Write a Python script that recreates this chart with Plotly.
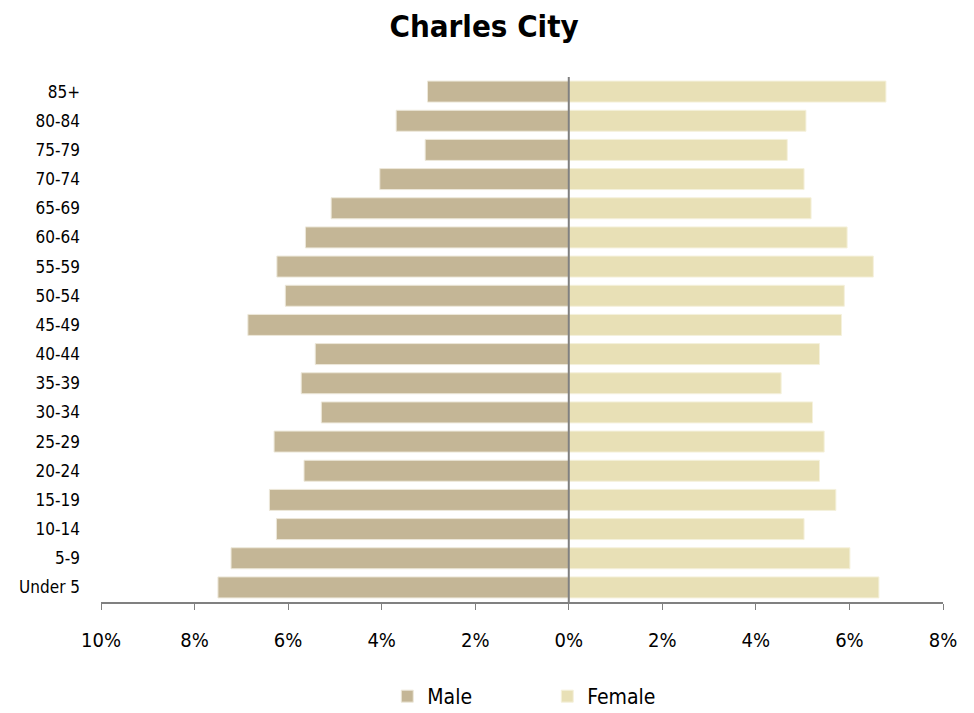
import plotly.graph_objects as go

age_groups = ["Under 5", "5-9", "10-14", "15-19", "20-24", "25-29", "30-34", "35-39",
              "40-44", "45-49", "50-54", "55-59", "60-64", "65-69", "70-74", "75-79",
              "80-84", "85+"]
male_pct = [7.50, 7.22, 6.25, 6.40, 5.66, 6.30, 5.29, 5.72,
            5.42, 6.86, 6.06, 6.24, 5.63, 5.08, 4.04, 3.07, 3.69, 3.02]
female_pct = [6.63, 6.01, 5.03, 5.71, 5.36, 5.46, 5.21, 4.54,
              5.36, 5.83, 5.89, 6.51, 5.95, 5.18, 5.03, 4.67, 5.07, 6.78]
tick_vals = [-10, -8, -6, -4, -2, 0, 2, 4, 6, 8]
tick_text = ["10%", "8%", "6%", "4%", "2%", "0%", "2%", "4%", "6%", "8%"]

font_family = "Liberation Sans Narrow, DejaVu Sans Condensed, Carlito, Arial, sans-serif"

fig = go.Figure()
fig.add_trace(go.Bar(
    y=age_groups, x=[-v for v in male_pct], orientation="h", name="Male",
    marker=dict(color="#C4B696", line=dict(color="#EDE8DA", width=1)),
))
fig.add_trace(go.Bar(
    y=age_groups, x=female_pct, orientation="h", name="Female",
    marker=dict(color="#E8E0B6", line=dict(color="#F5F1DC", width=1)),
))

# vertical centre line at 0%
fig.add_shape(type="line", xref="x", yref="paper", x0=0, x1=0, y0=0, y1=1,
              line=dict(color="#808080", width=2), layer="above")

fig.update_layout(
    width=974, height=713,
    barmode="overlay", bargap=0.28,
    paper_bgcolor="white", plot_bgcolor="white",
    margin=dict(l=101, r=31, t=77, b=111, autoexpand=False),
    title=dict(text="<b>Charles City</b>", x=0.497, xanchor="center", y=0.963, yanchor="middle",
               font=dict(family=font_family, size=31, color="black")),
    font=dict(family=font_family, color="black"),
    legend=dict(orientation="h", x=0.53, xanchor="center", y=-0.18, yanchor="middle",
                font=dict(size=21), itemwidth=30, entrywidth=115, traceorder="normal"),
    xaxis=dict(range=[-10, 8], tickvals=tick_vals, ticktext=tick_text,
               showgrid=False, zeroline=False,
               showline=True, linecolor="#808080", linewidth=2,
               ticks="outside", ticklen=6, tickcolor="#808080", tickwidth=1,
               tickfont=dict(size=20), ticklabelstandoff=13, fixedrange=True,
               automargin=False),
    yaxis=dict(showgrid=False, zeroline=False, showline=False, ticks="",
               tickfont=dict(size=17), ticklabelstandoff=20, automargin=False,
               fixedrange=True, categoryorder="array", categoryarray=age_groups),
)

fig.write_html("out.html", config={"displayModeBar": False},
               post_script="document.body.style.margin='0';")
